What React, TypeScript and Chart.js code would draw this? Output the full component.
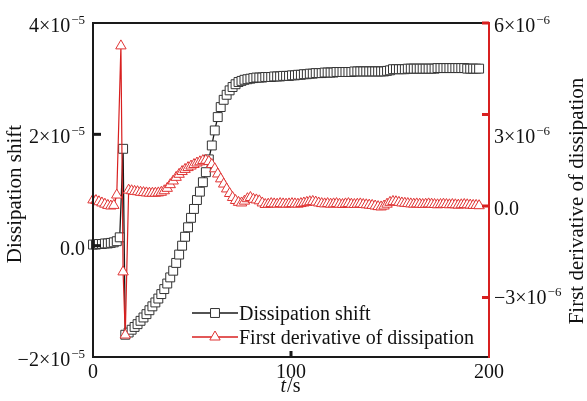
import React, { useEffect, useRef } from 'react';
import { Chart, registerables } from 'chart.js';

Chart.register(...registerables);

// ---------- data ----------
const SHIFT_UNIT = 1e-5;
const DERIV_UNIT = 1e-6;

const timeHead = [0, 1.5, 3, 4.5, 6, 7.5, 9, 10.5, 12];
const timeTail = [
  18, 19.5, 21, 22.5, 24, 25.5, 27, 28.5, 30, 31.5,
  33, 34.5, 36, 37.5, 39, 40.5, 42, 43.5, 45, 46.5,
  48, 49.5, 51, 52.5, 54, 55.5, 57, 58.5, 60, 61.5,
  63, 64.5, 66, 67.5, 69, 70.5, 72, 73.5, 75, 76.5,
  78, 79.5, 81, 82.5, 84, 85.5, 87, 88.5, 90, 91.5,
  93, 94.5, 96, 97.5, 99, 100.5, 102, 103.5, 105, 106.5,
  108, 109.5, 111, 112.5, 114, 115.5, 117, 118.5, 120, 121.5,
  123, 124.5, 126, 127.5, 129, 130.5, 132, 133.5, 135, 136.5,
  138, 139.5, 141, 142.5, 144, 145.5, 147, 148.5, 150, 151.5,
  153, 154.5, 156, 157.5, 159, 160.5, 162, 163.5, 165, 166.5,
  168, 169.5, 171, 172.5, 174, 175.5, 177, 178.5, 180, 181.5,
  183, 184.5, 186, 187.5, 189, 190.5, 192, 193.5, 195,
];

const timeShift = [...timeHead, 13.5, 15.2, 16.3, ...timeTail];
// Dissipation shift, in units of 1e-5
const shiftValues = [
  0.02, 0.02, 0.03, 0.03, 0.04, 0.04, 0.05, 0.06, 0.08,
  0.15, 1.74, -1.6,
  -1.56, -1.51, -1.46, -1.41, -1.35, -1.29, -1.23, -1.16, -1.09, -1.02,
  -0.95, -0.87, -0.78, -0.68, -0.57, -0.45, -0.31, -0.16, 0.0, 0.16,
  0.33, 0.5, 0.66, 0.82, 0.97, 1.14, 1.32, 1.55, 1.8, 2.07,
  2.31, 2.49, 2.62, 2.71, 2.79, 2.85, 2.9, 2.94, 2.96, 2.98,
  2.99, 3.0, 3.01, 3.02, 3.02, 3.02, 3.03, 3.03, 3.03, 3.04,
  3.04, 3.04, 3.05, 3.05, 3.05, 3.06, 3.06, 3.07, 3.07, 3.08,
  3.08, 3.09, 3.09, 3.1, 3.1, 3.1, 3.11, 3.11, 3.11, 3.11,
  3.12, 3.12, 3.12, 3.12, 3.12, 3.12, 3.13, 3.13, 3.13, 3.13,
  3.13, 3.13, 3.13, 3.13, 3.13, 3.13, 3.13, 3.14, 3.15, 3.17,
  3.17, 3.17, 3.17, 3.17, 3.18, 3.18, 3.18, 3.18, 3.18, 3.18,
  3.18, 3.18, 3.18, 3.18, 3.19, 3.19, 3.19, 3.19, 3.19, 3.19,
  3.19, 3.19, 3.19, 3.19, 3.18, 3.18, 3.18, 3.18, 3.18,
];

const timeDeriv = [...timeHead, 14.1, 15.2, 16.3, ...timeTail];
// First derivative of dissipation, in units of 1e-6
const derivValues = [
  0.2, 0.18, 0.14, 0.1, 0.06, 0.02, 0.0, 0.02, 0.36,
  5.25, -2.16, -4.23,
  0.52, 0.5, 0.48, 0.47, 0.45, 0.44, 0.43, 0.42, 0.42, 0.42,
  0.43, 0.45, 0.5, 0.58, 0.7, 0.82, 0.94, 1.04, 1.13, 1.2,
  1.26, 1.31, 1.36, 1.41, 1.45, 1.49, 1.5, 1.46, 1.36, 1.22,
  1.05, 0.89, 0.72, 0.56, 0.41, 0.28, 0.18, 0.12, 0.1, 0.16,
  0.24, 0.28, 0.22, 0.2, 0.17, 0.1, 0.05, 0.06, 0.08, 0.07,
  0.06, 0.08, 0.07, 0.06, 0.07, 0.08, 0.07, 0.06, 0.08, 0.1,
  0.12, 0.14, 0.15, 0.13, 0.1, 0.08, 0.07, 0.08, 0.06, 0.07,
  0.08, 0.06, 0.05, 0.07, 0.08, 0.06, 0.05, 0.06, 0.07, 0.05,
  0.04, 0.03, 0.02, 0.0, -0.02, -0.03, 0.0, 0.06, 0.12, 0.15,
  0.14, 0.12, 0.1, 0.09, 0.08, 0.07, 0.06, 0.07, 0.06, 0.05,
  0.06, 0.07, 0.06, 0.05, 0.04, 0.05, 0.06, 0.05, 0.04, 0.05,
  0.04, 0.03, 0.04, 0.05, 0.04, 0.03, 0.02, 0.02, 0.01,
];

const seriesNames = ['Dissipation shift', 'First derivative of dissipation'];
const xTickValues = [0, 100, 200];
const xTickLabels = ['0', '100', '200'];
const leftTickValues = [4e-5, 2e-5, 0, -2e-5];
const leftTickLabels = ['4×10^−5', '2×10^−5', '0.0', '−2×10^−5'];
const rightTickValues = [6e-6, 3e-6, 0, -3e-6];
const rightTickLabels = ['6×10^−6', '3×10^−6', '0.0', '−3×10^−6'];
const leftTitle = 'Dissipation shift';
const rightTitle = 'First derivative of dissipation';

// ---------- style ----------
const FONT = '"Liberation Serif", "Times New Roman", serif';
const BLACK = '#1a1a1a';
const RED = '#d82020';
const RED_MARK = '#e03434';

function drawSci(ctx: CanvasRenderingContext2D, label: string, x: number, y: number, align: string, size: number) {
  const [base, exp] = label.split('^');
  ctx.font = `${size}px ${FONT}`;
  const wb = ctx.measureText(base).width;
  const es = Math.round(size * 0.65);
  let we = 0;
  if (exp) {
    ctx.font = `${es}px ${FONT}`;
    we = ctx.measureText(exp).width + 1;
  }
  const total = wb + we;
  const sx = align === 'right' ? x - total : align === 'center' ? x - total / 2 : x;
  ctx.textAlign = 'left';
  ctx.textBaseline = 'alphabetic';
  ctx.font = `${size}px ${FONT}`;
  ctx.fillText(base, sx, y);
  if (exp) {
    ctx.font = `${es}px ${FONT}`;
    ctx.fillText(exp, sx + wb + 1, y - size * 0.4);
  }
}

function drawMarker(ctx: CanvasRenderingContext2D, style: string, x: number, y: number, r: number, stroke: string) {
  ctx.save();
  ctx.beginPath();
  if (style === 'rect') {
    const s = Math.SQRT1_2 * r;
    ctx.rect(x - s, y - s, 2 * s, 2 * s);
  } else {
    let rad = 0;
    const step = (2 * Math.PI) / 3;
    ctx.moveTo(x + Math.sin(rad) * r, y - Math.cos(rad) * r);
    rad += step;
    ctx.lineTo(x + Math.sin(rad) * r, y - Math.cos(rad) * r);
    rad += step;
    ctx.lineTo(x + Math.sin(rad) * r, y - Math.cos(rad) * r);
    ctx.closePath();
  }
  ctx.fillStyle = '#fff';
  ctx.fill();
  ctx.lineWidth = 1;
  ctx.strokeStyle = stroke;
  ctx.stroke();
  ctx.restore();
}

const decorPlugin = {
  id: 'decor',
  afterDraw(chart: any) {
    const ctx: CanvasRenderingContext2D = chart.ctx;
    const { left, right, top, bottom } = chart.chartArea;
    const xs = chart.scales.x;
    const ys = chart.scales.y;
    const y1 = chart.scales.y1;
    ctx.save();

    // frame
    ctx.lineWidth = 2;
    ctx.strokeStyle = BLACK;
    ctx.beginPath();
    ctx.moveTo(right, top);
    ctx.lineTo(left, top);
    ctx.lineTo(left, bottom);
    ctx.lineTo(right, bottom);
    ctx.stroke();
    ctx.strokeStyle = RED;
    ctx.beginPath();
    ctx.moveTo(right, top - 1);
    ctx.lineTo(right, bottom + 1);
    ctx.stroke();

    // inside ticks
    ctx.lineWidth = 3;
    ctx.strokeStyle = BLACK;
    leftTickValues.forEach((v) => {
      const py = ys.getPixelForValue(v);
      if (py <= top + 1 || py >= bottom - 1) return;
      ctx.beginPath();
      ctx.moveTo(left, py);
      ctx.lineTo(left + 8, py);
      ctx.stroke();
    });
    xTickValues.forEach((v) => {
      const px = xs.getPixelForValue(v);
      if (px <= left + 1 || px >= right - 1) return;
      ctx.beginPath();
      ctx.moveTo(px, bottom);
      ctx.lineTo(px, bottom - 6);
      ctx.stroke();
    });
    ctx.strokeStyle = RED;
    rightTickValues.forEach((v) => {
      const py = Math.max(top, y1.getPixelForValue(v));
      ctx.beginPath();
      ctx.moveTo(right, py);
      ctx.lineTo(right - 7, py);
      ctx.stroke();
    });

    // tick labels
    ctx.fillStyle = '#111';
    leftTickValues.forEach((v, i) => {
      const py = ys.getPixelForValue(v);
      drawSci(ctx, leftTickLabels[i], left - 8, py + 9, 'right', 20);
    });
    const rightDy = [0, 19, 0, -3];
    rightTickValues.forEach((v, i) => {
      const py = y1.getPixelForValue(v);
      drawSci(ctx, rightTickLabels[i], right + 5, py + 9 + rightDy[i], 'left', 20);
    });
    xTickValues.forEach((v, i) => {
      const px = xs.getPixelForValue(v);
      drawSci(ctx, xTickLabels[i], px, bottom + 21, 'center', 20);
    });

    // x title: italic t + "/s"
    ctx.textBaseline = 'alphabetic';
    ctx.textAlign = 'left';
    ctx.font = `italic 20px ${FONT}`;
    const wt = ctx.measureText('t').width;
    ctx.font = `20px ${FONT}`;
    const ws = ctx.measureText('/s').width;
    const cx = (left + right) / 2 - 1;
    const sx = cx - (wt + ws) / 2;
    ctx.font = `italic 20px ${FONT}`;
    ctx.fillText('t', sx, 392);
    ctx.font = `20px ${FONT}`;
    ctx.fillText('/s', sx + wt + 1, 392);

    // y titles (both read bottom-to-top)
    ctx.font = `21px ${FONT}`;
    ctx.textAlign = 'center';
    ctx.textBaseline = 'alphabetic';
    ctx.save();
    ctx.translate(21, 194);
    ctx.rotate(-Math.PI / 2);
    ctx.fillText(leftTitle, 0, 0);
    ctx.restore();
    ctx.save();
    ctx.translate(583, 201);
    ctx.rotate(-Math.PI / 2);
    ctx.fillText(rightTitle, 0, 0);
    ctx.restore();

    // legend
    const rows = [
      { y: 313, color: BLACK, mark: '#333', style: 'rect', r: 6.3 },
      { y: 337, color: RED, mark: RED_MARK, style: 'triangle', r: 6 },
    ];
    rows.forEach((row, i) => {
      ctx.lineWidth = 1.3;
      ctx.strokeStyle = row.color;
      ctx.beginPath();
      ctx.moveTo(192, row.y);
      ctx.lineTo(238, row.y);
      ctx.stroke();
      drawMarker(ctx, row.style, 215, row.y, row.r, row.mark);
      ctx.fillStyle = '#111';
      ctx.font = `20px ${FONT}`;
      ctx.textAlign = 'left';
      ctx.textBaseline = 'alphabetic';
      ctx.fillText(seriesNames[i], 239, row.y + 7);
    });

    ctx.restore();
  },
};

export default function App() {
  const ref = useRef<HTMLCanvasElement>(null);
  useEffect(() => {
    const shiftData = timeShift.map((t, i) => ({ x: t, y: shiftValues[i] * SHIFT_UNIT }));
    const derivData = timeDeriv.map((t, i) => ({ x: t, y: derivValues[i] * DERIV_UNIT }));
    const chart = new Chart(ref.current as HTMLCanvasElement, {
      type: 'line',
      data: {
        datasets: [
          {
            label: seriesNames[0],
            data: shiftData,
            xAxisID: 'x',
            yAxisID: 'y',
            borderColor: BLACK,
            borderWidth: 1.3,
            pointStyle: 'rect',
            pointRadius: 6.3,
            pointBorderColor: '#333',
            pointBackgroundColor: '#fff',
            pointBorderWidth: 1,
            tension: 0,
            clip: false,
            order: 1,
          },
          {
            label: seriesNames[1],
            data: derivData,
            xAxisID: 'x',
            yAxisID: 'y1',
            borderColor: RED,
            borderWidth: 1.2,
            pointStyle: 'triangle',
            pointRadius: 6,
            pointBorderColor: RED_MARK,
            pointBackgroundColor: '#fff',
            pointBorderWidth: 1,
            tension: 0,
            clip: false,
            order: 0,
          },
        ] as any,
      },
      options: {
        animation: false,
        responsive: false,
        devicePixelRatio: 1,
        layout: { padding: { left: 93, right: 98, top: 23, bottom: 44 } },
        plugins: { legend: { display: false }, tooltip: { enabled: false } },
        scales: {
          x: { type: 'linear', min: 0, max: 200, display: false },
          y: { type: 'linear', position: 'left', min: -2e-5, max: 4e-5, display: false },
          y1: { type: 'linear', position: 'right', min: -4.95e-6, max: 6e-6, display: false },
        },
      },
      plugins: [decorPlugin],
    } as any);
    return () => chart.destroy();
  }, []);
  return (
    <div style={{ position: 'fixed', left: 0, top: 0, width: 587, height: 401, background: '#fff' }}>
      <canvas ref={ref} width={587} height={401} style={{ display: 'block' }} />
    </div>
  );
}
